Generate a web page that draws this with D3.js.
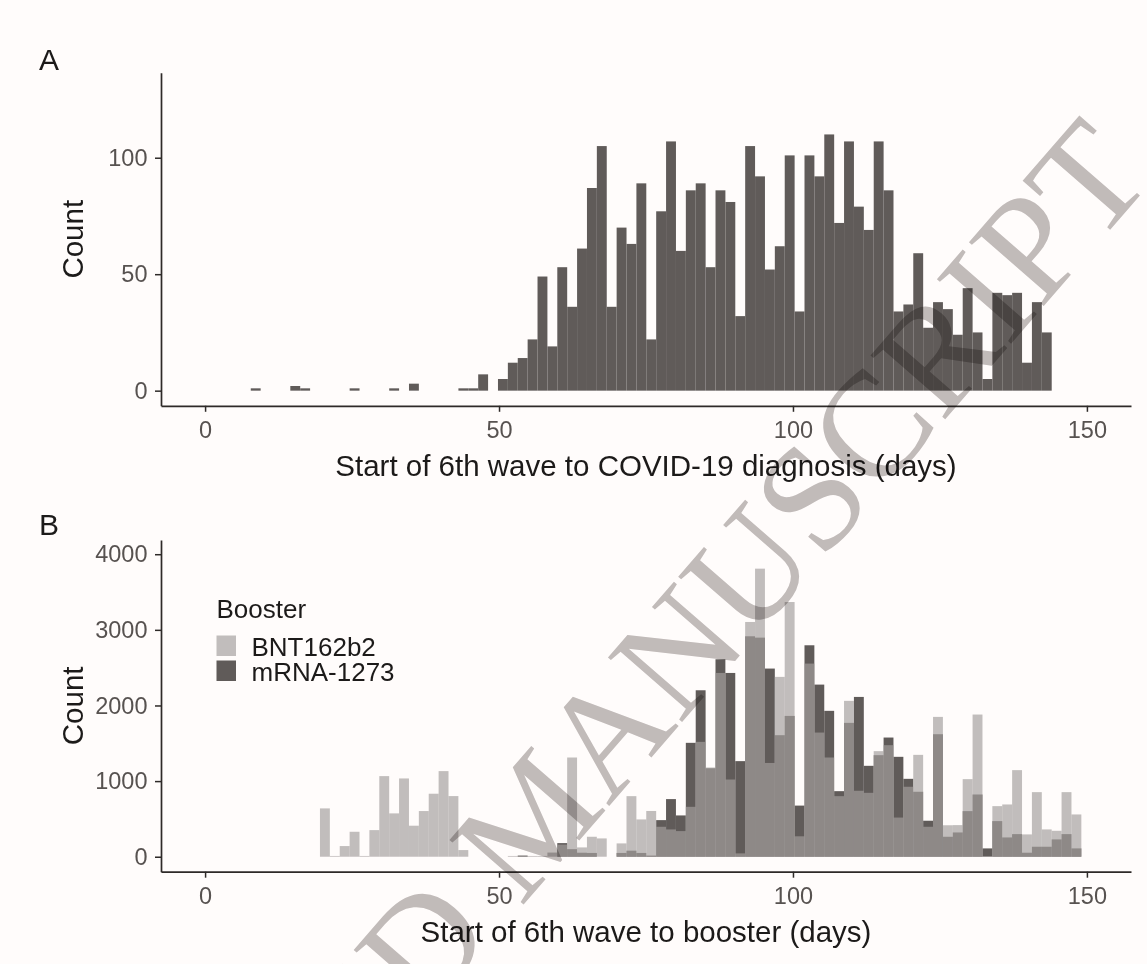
<!doctype html>
<html>
<head>
<meta charset='utf-8'>
<script src='https://cdn.jsdelivr.net/npm/d3@7'></script>
<style>
body{margin:0;background:#fffcfb;}
svg{display:block;font-family:'Liberation Sans',Arial,sans-serif;}
</style>
</head>
<body>
<svg id='fig' width='1147' height='964'></svg>
<script>

// both histograms use the same bin width (days)
const binWidth = 1.682;

// A: start of 6th wave to COVID-19 diagnosis, counts per bin
const startA = 7.77;
const countsA = [1,0,0,0,2,1,0,0,0,0, 1,0,0,0,1,0,3,0,0,0,
  0,1,1,7,0,5,12,14,22,49, 19,53,36,61,87,105,36,70,63,89,
  22,77,107,60,86,89,53,86,81,32, 105,92,52,62,101,34,101,92,110,72,
  107,79,69,107,86,34,37,59,27,38, 35,24,44,25,5,42,41,42,12,38, 25];

// B: start of 6th wave to booster, counts per bin by booster
const startB = 19.54;
const bnt = [639,10,141,330,10,352,1066,573,1035,410, 604,833,1132,802,88,0,0,0,0,10,
  10,10,10,55,160,1312,123,264,242,0, 176,801,493,605,396,361,339,660,1519,1180,
  2430,1021,44,3104,3809,1240,2378,3368,270,2554, 1642,1312,801,2061,872,845,1396,1475,518,925,
  1347,396,1849,416,418,1026,1880,10,669,691, 1145,295,854,361,343,854,559];
const mrna = [0,0,0,0,0,0,0,0,0,0, 0,0,0,0,0,0,0,0,0,0,
  15,0,0,0,180,100,53,50,0,0, 50,80,50,15,484,762,546,1506,2201,1170,
  2611,2430,1264,2915,2897,2488,1607,1862,676,2796, 2276,1929,867,1770,2113,1202,1343,1576,1321,1030,
  859,476,1620,264,321,603,823,110,471,255, 299,53,132,132,229,299,110];

const boosters = ['BNT162b2', 'mRNA-1273'];
const xTicks = [0, 50, 100, 150];
const yTicksA = [0, 50, 100];
const yTicksB = [0, 1000, 2000, 3000, 4000];

const col = {dark: '#605b59', bntFill: '#a49f9e', bntKey: '#c1bdbc', axis: '#2e2a28', tick: '#575250'};

const svg = d3.select('#fig');
svg.append('rect').attr('width', 1147).attr('height', 964).attr('fill', '#fffcfb');

const x = d3.scaleLinear().domain([-7.5, 157.5]).range([161, 1131]);
const yA = d3.scaleLinear().domain([-6.5, 136.5]).range([405.8, 72.7]);
const yB = d3.scaleLinear().domain([-198, 4188]).range([871.7, 540]);
const bw = x(binWidth) - x(0);

function bins(start, counts){
  return counts.map((c, i) => ({x0: start + i * binWidth, n: c})).filter(d => d.n > 0);
}

function drawBars(g, data, y, fill, op){
  g.selectAll(null)
    .data(data)
    .enter()
    .append('rect')
    .attr('x', d => x(d.x0))
    .attr('width', bw)
    .attr('y', d => y(d.n))
    .attr('height', d => y(0) - y(d.n))
    .attr('fill', fill)
    .attr('fill-opacity', op);
}

function drawAxes(y, yTicks, xTitle, top, label){
  const bottom = y.range()[0];
  const gx = svg.append('g')
    .attr('transform', `translate(0, ${bottom})`)
    .call(d3.axisBottom(x).tickValues(xTicks).tickFormat(d3.format('d'))
      .tickSize(6).tickSizeOuter(0).tickPadding(10));
  const gy = svg.append('g')
    .attr('transform', `translate(${x.range()[0]}, 0)`)
    .call(d3.axisLeft(y).tickValues(yTicks).tickFormat(d3.format('d'))
      .tickSize(6).tickSizeOuter(0).tickPadding(7.5));
  [gx, gy].forEach(g => {
    g.select('.domain').attr('stroke', col.axis).attr('stroke-width', 1.7);
    g.selectAll('.tick line').attr('stroke', col.axis).attr('stroke-width', 1.5);
    g.selectAll('.tick text').attr('fill', col.tick).style('font-size', '23.5px')
      .style('font-family', "'Liberation Sans',Arial,sans-serif");
  });

  svg.append('text')
    .attr('x', (x.range()[0] + x.range()[1]) / 2)
    .attr('y', bottom + 70)
    .attr('text-anchor', 'middle')
    .style('font-size', '29.5px')
    .attr('fill', '#1c1a19')
    .text(xTitle);

  const mid = (y.range()[0] + y.range()[1]) / 2;
  svg.append('text')
    .attr('transform', `translate(82.5, ${mid}) rotate(-90)`)
    .attr('text-anchor', 'middle')
    .style('font-size', '29.5px')
    .attr('fill', '#1c1a19')
    .text('Count');

  svg.append('text')
    .attr('x', 39)
    .attr('y', top)
    .style('font-size', '30px')
    .attr('fill', '#1c1a19')
    .text(label);
}

// Panel A
const gA = svg.append('g');
drawBars(gA, bins(startA, countsA), yA, col.dark, 1);
drawAxes(yA, yTicksA, 'Start of 6th wave to COVID-19 diagnosis (days)', 70, 'A');

// Panel B: mRNA-1273 underneath, BNT162b2 semi-transparent on top
const gB = svg.append('g');
drawBars(gB, bins(startB, mrna), yB, col.dark, 1);
drawBars(gB, bins(startB, bnt), yB, col.bntFill, 0.68);
drawAxes(yB, yTicksB, 'Start of 6th wave to booster (days)', 535, 'B');

// legend
const leg = svg.append('g').attr('transform', 'translate(216.5, 618)');
leg.append('text').style('font-size', '26px').attr('fill', '#1c1a19').text('Booster');
const items = leg.selectAll('.item')
  .data(boosters)
  .enter()
  .append('g')
  .attr('class', 'item')
  .attr('transform', (d, i) => `translate(0, ${17.5 + i * 25})`);
items.append('rect')
  .attr('width', 19.5).attr('height', 20.5)
  .attr('fill', (d, i) => i == 0 ? col.bntKey : col.dark);
items.append('text')
  .attr('x', 35).attr('y', 20.5)
  .style('font-size', '26px')
  .attr('fill', '#1c1a19')
  .text(d => d);

// watermark of the source page
svg.append('text')
  .attr('transform', 'translate(1155, 178) rotate(-49)')
  .attr('text-anchor', 'end')
  .style('font-family', "'Liberation Serif','Times New Roman',serif")
  .style('font-size', '150px')
  .style('mix-blend-mode', 'multiply')
  .attr('fill', '#c1bdbc')
  .text('ACCEPTED MANUSCRIPT');

</script>
</body>
</html>
